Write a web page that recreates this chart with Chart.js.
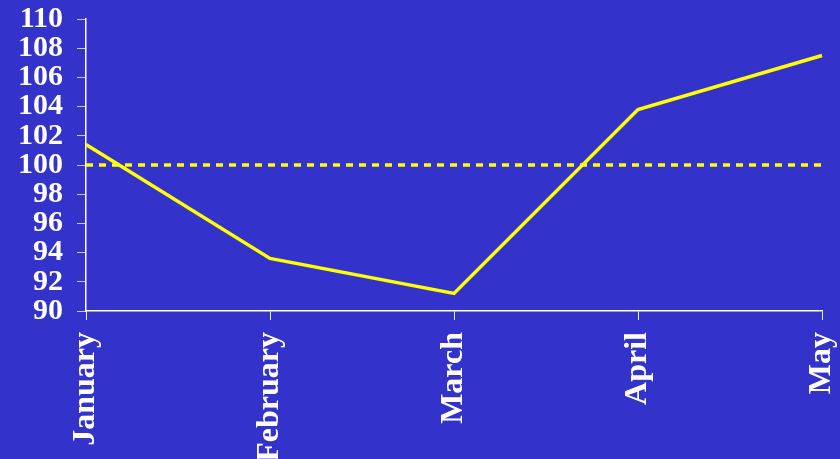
<!DOCTYPE html>
<html>
<head>
<meta charset="utf-8">
<script src="https://cdn.jsdelivr.net/npm/chart.js@4/dist/chart.umd.min.js"></script>
<style>
  html, body { margin: 0; padding: 0; background: #3333cc; }
  #wrap { width: 840px; height: 459px; }
  canvas { display: block; background: #3333cc; }
</style>
</head>
<body>
<div id="wrap"><canvas id="chart" width="840" height="459"></canvas></div>
<script>
// data
const months = [ 'January', 'February', 'March', 'April', 'May' ]
const indexValues = [ 101.4, 93.6, 91.2, 103.8, 107.5 ]
const baseline = [ 100, 100, 100, 100, 100 ]
const yMin = 90
const yMax = 110
const yStep = 2

const family = '"Liberation Serif", "Times New Roman", serif'

new Chart( document.getElementById( 'chart' ), {
  type: 'line',
  data: {
    labels: months,
    datasets: [
      {
        label: 'Index',
        data: indexValues,
        borderColor: '#ffff00',
        borderWidth: 3.5,
        pointRadius: 0,
        tension: 0,
        fill: false
      },
      {
        label: 'Base',
        data: baseline,
        borderColor: '#ffff00',
        borderWidth: 3.5,
        borderDash: [ 7, 6 ],
        borderCapStyle: 'butt',
        pointRadius: 0,
        tension: 0,
        fill: false
      }
    ]
  },
  options: {
    responsive: false,
    animation: false,
    layout: { padding: { top: 19, right: 18, left: 0, bottom: 0 } },
    plugins: { legend: { display: false }, tooltip: { enabled: false } },
    scales: {
      x: {
        offset: false,
        grid: { drawOnChartArea: false, color: '#ffffff', tickLength: 9, tickColor: '#e8e8ff' },
        border: { color: '#ffffff', width: 1.5 },
        ticks: { color: '#ffffff', font: { family: family, size: 32, weight: 'bold' }, minRotation: 90, maxRotation: 90, padding: 12, autoSkip: false },
        afterFit: function( scale ) {
          scale.height = 148
          scale.paddingLeft = 0
          scale.paddingRight = 0
        }
      },
      y: {
        min: yMin,
        max: yMax,
        grid: { drawOnChartArea: false, color: '#ffffff', tickLength: 9, tickColor: '#c8c8ee' },
        border: { color: '#ffffff', width: 1.5 },
        ticks: { stepSize: yStep, color: '#ffffff', font: { family: family, size: 30, weight: 'bold' }, padding: 14, autoSkip: false },
        afterFit: function( scale ) {
          scale.width = 86
          scale.paddingTop = 0
          scale.paddingBottom = 0
        }
      }
    }
  }
} )
</script>
</body>
</html>
